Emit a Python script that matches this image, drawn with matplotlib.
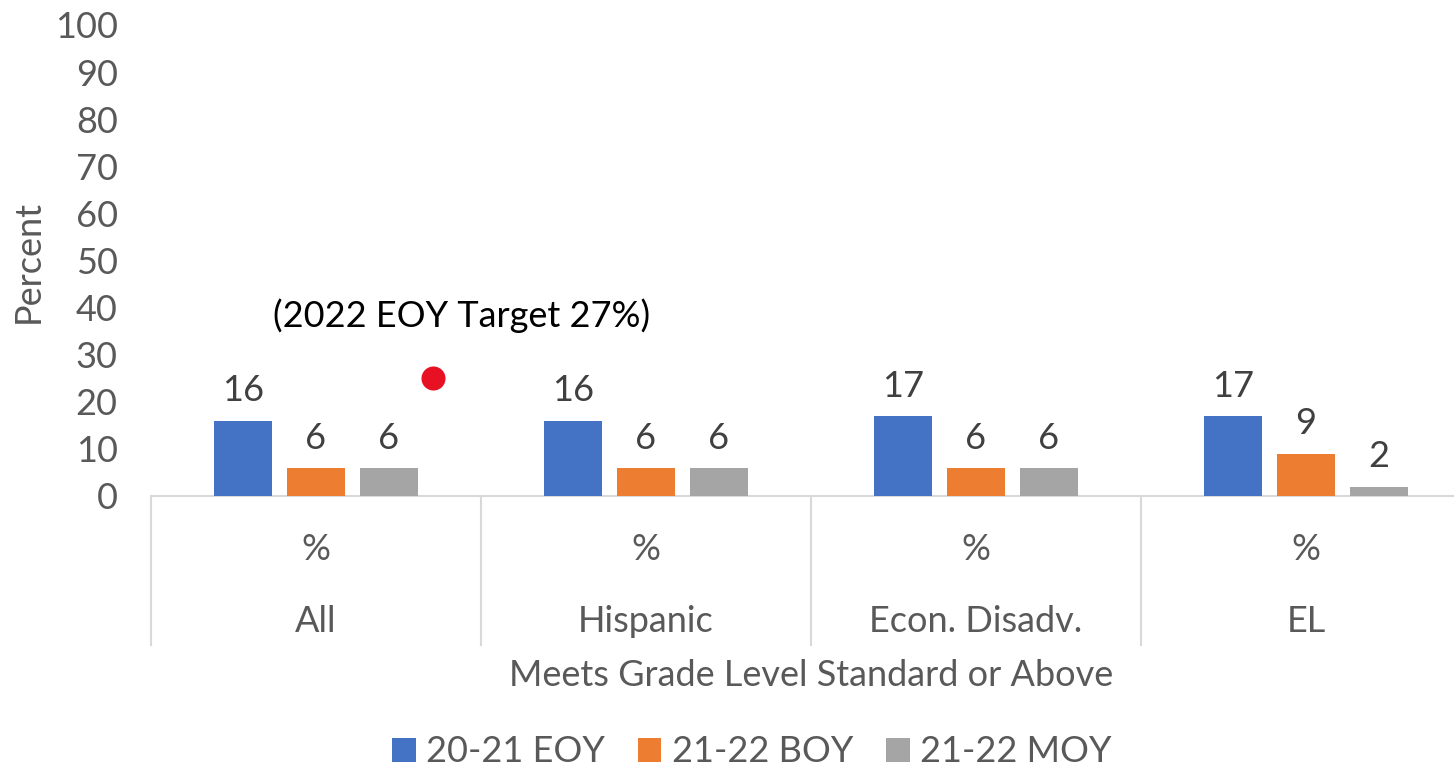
import numpy as np
import matplotlib
matplotlib.use("Agg")
import matplotlib.pyplot as plt
import matplotlib.transforms as mtransforms
from matplotlib.patches import Patch

plt.rcParams["font.family"] = ["Lato", "DejaVu Sans"]

# data
groups = ["All", "Hispanic", "Econ. Disadv.", "EL"]
series = ["20-21 EOY", "21-22 BOY", "21-22 MOY"]
eoy_2021 = [16, 16, 17, 17]
boy_2122 = [6, 6, 6, 9]
moy_2122 = [6, 6, 6, 2]
target_value = 25
target_text = "(2022 EOY Target 27%)"
yticks = list(range(0, 101, 10))

colors = ["#4472C4", "#ED7D31", "#A5A5A5"]
tick_color = "#595959"
label_color = "#404040"
line_color = "#D9D9D9"
fs = 26

fig = plt.figure(figsize=(14.54, 7.72), dpi=100)
ax = fig.add_axes([151 / 1454, 1 - 496 / 772, 1320 / 1454, 471 / 772])

x = np.arange(len(groups))
offset = 0.221
width = 0.176
for i, (vals, col) in enumerate(zip([eoy_2021, boy_2122, moy_2122], colors)):
    xs = x + (i - 1) * offset
    ax.bar(xs, vals, width=width, color=col, zorder=3)
    for xx, v in zip(xs, vals):
        ax.text(xx, v + 6.3, str(v), ha="center", va="center",
                fontsize=fs, color=label_color)

# target marker
ax.scatter([x[0] + 0.355], [target_value], s=300, color="#E81123", zorder=4,
           linewidths=0)
ax.text(0.44, 38.3, target_text, ha="center", va="center",
        fontsize=fs, color="black")

ax.set_xlim(-0.5, 3.5)
ax.set_ylim(0, 100)
ax.set_yticks(yticks)
ax.tick_params(axis="y", length=0, pad=24, labelsize=fs, labelcolor=tick_color)
ax.set_xticks([])
for s in ["top", "right", "left"]:
    ax.spines[s].set_visible(False)
ax.spines["bottom"].set_color(line_color)
ax.spines["bottom"].set_linewidth(1.5)

ax.set_ylabel("Percent", fontsize=fs, color=tick_color, va="center")
ax.yaxis.set_label_coords(-(151 - 28) / 1320, 0.497)

# category axis boxes
trans = mtransforms.blended_transform_factory(ax.transData, ax.transAxes)
bottom = -(645 - 496) / 471
for k in range(len(groups) + 1):
    ax.plot([k - 0.5, k - 0.5], [0, bottom], color=line_color, lw=1.5,
            transform=trans, clip_on=False)
for k, g in enumerate(groups):
    ax.text(k, -(549 - 496) / 471, "%", ha="center", va="center",
            fontsize=fs, color=tick_color, transform=trans)
    ax.text(k, -(622 - 496) / 471, g, ha="center", va="center",
            fontsize=fs, color=tick_color, transform=trans)

fig.text(811 / 1454, 1 - 676 / 772, "Meets Grade Level Standard or Above",
         ha="center", va="center", fontsize=fs, color=tick_color)

handles = [Patch(facecolor=c, edgecolor="none") for c in colors]
fig.legend(handles, series, loc="center", bbox_to_anchor=(752 / 1454, 1 - 752 / 772),
           ncol=3, frameon=False, fontsize=fs, labelcolor=tick_color,
           handlelength=0.65, handleheight=0.65, handletextpad=0.3, columnspacing=0.9)

fig.savefig("out.png", dpi=100, facecolor="white")
